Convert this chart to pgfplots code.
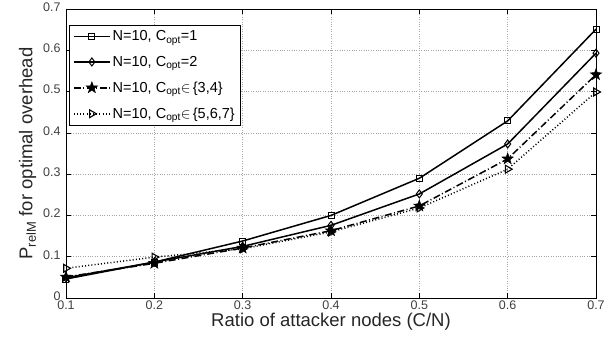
\documentclass[border=0pt]{standalone}
\usepackage{pgfplots}
\pgfplotsset{compat=1.18}
\usepackage{fontspec}
\setmainfont{Liberation Sans}
\pgfdeclareplotmark{fstar}{%
  \pgfpathmoveto{\pgfpointpolar{90}{\pgfplotmarksize}}%
  \pgfpathlineto{\pgfpointpolar{126}{0.40\pgfplotmarksize}}%
  \pgfpathlineto{\pgfpointpolar{162}{\pgfplotmarksize}}%
  \pgfpathlineto{\pgfpointpolar{198}{0.40\pgfplotmarksize}}%
  \pgfpathlineto{\pgfpointpolar{234}{\pgfplotmarksize}}%
  \pgfpathlineto{\pgfpointpolar{270}{0.40\pgfplotmarksize}}%
  \pgfpathlineto{\pgfpointpolar{306}{\pgfplotmarksize}}%
  \pgfpathlineto{\pgfpointpolar{342}{0.40\pgfplotmarksize}}%
  \pgfpathlineto{\pgfpointpolar{18}{\pgfplotmarksize}}%
  \pgfpathlineto{\pgfpointpolar{54}{0.40\pgfplotmarksize}}%
  \pgfpathclose\pgfusepathqfillstroke}
\begin{document}
\begin{tikzpicture}
\begin{axis}[
  scale only axis,
  width=530pt, height=289pt,
  at={(0pt,0pt)}, anchor=south west,
  xmin=0.1, xmax=0.7, ymin=0, ymax=0.7,
  xtick={0.1,0.2,0.3,0.4,0.5,0.6,0.7},
  ytick={0,0.1,0.2,0.3,0.4,0.5,0.6,0.7},
  xticklabels={0.1,0.2,0.3,0.4,0.5,0.6,0.7},
  yticklabels={0,0.1,0.2,0.3,0.4,0.5,0.6,0.7},
  tick align=inside,
  tick style={black, line width=0.6pt},
  major tick length=5pt,
  grid=major,
  grid style={dotted, gray!70, line width=0.6pt},
  axis line style={line width=0.8pt},
  ticklabel style={font=\fontsize{12.5}{13}\selectfont, color=black!75},
  xticklabel style={yshift=-2.5pt, inner ysep=0.5pt},
  yticklabel style={xshift=-2pt, yshift=2pt, inner ysep=0pt},
  xlabel={Ratio of attacker nodes (C/N)},
  ylabel={P$_{\mathrm{\fontsize{13}{14}\selectfont relM}}$ for optimal overhead},
  label style={font=\fontsize{18.5}{20}\selectfont, color=black!85},
  xlabel style={yshift=-1pt, inner ysep=1pt},
  ylabel style={yshift=0pt},
  legend style={at={(rel axis cs:0.006,0.945)}, anchor=north west,
    draw=black, line width=0.8pt, fill=white,
    font=\fontsize{14.5}{17}\selectfont,
    row sep=10pt, inner sep=3.5pt},
  legend cell align=left,
  legend image code/.code={%
    \draw[line width=1.6pt, mark repeat=2,mark phase=2] plot coordinates {(0pt,0.3pt) (18pt,0.3pt) (36pt,0.3pt)};},
  every axis plot/.append style={line width=1.5pt, black},
]
\addplot[mark=square, mark size=3pt, mark options={solid, line width=1pt}] coordinates {
(0.1,0.046) (0.2,0.087) (0.3,0.138) (0.4,0.200) (0.5,0.290) (0.6,0.429) (0.7,0.651)};
\addlegendentry{N=10, C$_{\mathrm{opt}}$=1}
\addplot[mark=diamond, mark size=4pt, mark options={solid, line width=1pt}] coordinates {
(0.1,0.049) (0.2,0.087) (0.3,0.125) (0.4,0.176) (0.5,0.252) (0.6,0.373) (0.7,0.593)};
\addlegendentry{N=10, C$_{\mathrm{opt}}$=2}
\addplot[dash pattern=on 7pt off 2.5pt on 1pt off 2.5pt, mark=fstar, mark size=6pt, mark options={solid, line width=0.5pt}] coordinates {
(0.1,0.051) (0.2,0.084) (0.3,0.121) (0.4,0.163) (0.5,0.223) (0.6,0.337) (0.7,0.541)};
\addlegendentry{N=10, C$_{\mathrm{opt}}{\in}\,$\{3,4\}}
\addplot[dash pattern=on 1pt off 2.2pt, mark=triangle, mark size=4.5pt, mark options={solid, rotate=-90, line width=1.1pt}] coordinates {
(0.1,0.072) (0.2,0.099) (0.3,0.119) (0.4,0.160) (0.5,0.218) (0.6,0.312) (0.7,0.499)};
\addlegendentry{N=10, C$_{\mathrm{opt}}{\in}\,$\{5,6,7\}}
\end{axis}
\pgfresetboundingbox
\path[use as bounding box] (-66pt,-41pt) rectangle (547pt,298pt);
\end{tikzpicture}
\end{document}
